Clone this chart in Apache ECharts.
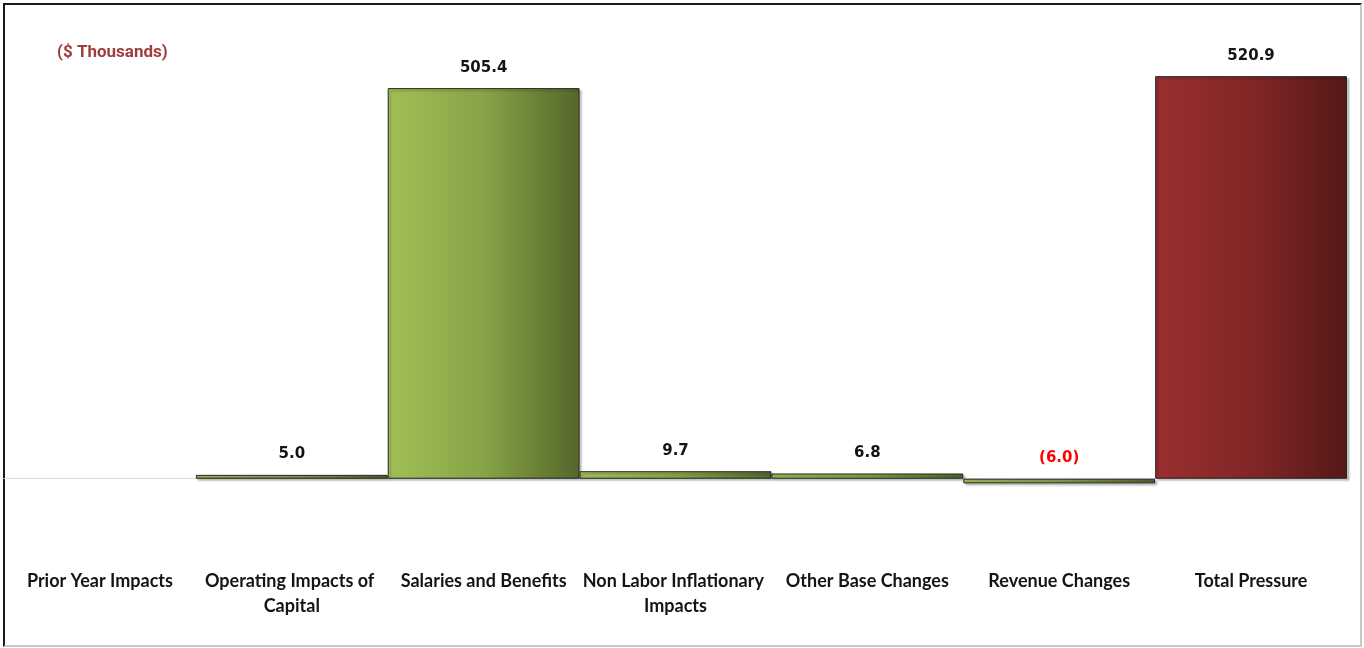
<!DOCTYPE html>
<html>
<head>
<meta charset="utf-8">
<script src="https://cdn.jsdelivr.net/npm/echarts@6/dist/echarts.min.js"></script>
<style>
  html, body { margin: 0; padding: 0; background: #ffffff; }
  .frame {
    position: absolute;
    left: 3px;
    top: 3px;
    width: 1355px;
    height: 640px;
    border-left: 2px solid #1a1a1a;
    border-top: 2px solid #1a1a1a;
    border-right: 2px solid #c8c8c8;
    border-bottom: 2px solid #c8c8c8;
    background: #ffffff;
  }
  #chart {
    position: absolute;
    left: 0;
    top: 0;
    width: 1364px;
    height: 648px;
  }
</style>
</head>
<body>
<div class="frame"></div>
<div id="chart"></div>
<script>
const categories = [
  'Prior Year Impacts',
  'Operating Impacts of Capital',
  'Salaries and Benefits',
  'Non Labor Inflationary Impacts',
  'Other Base Changes',
  'Revenue Changes',
  'Total Pressure'
]
const values = [0, 5.0, 505.4, 9.7, 6.8, -6.0, 520.9]
const unitLabel = '($ Thousands)'

const greenFill = new echarts.graphic.LinearGradient(0, 0, 1, 0, [
  { offset: 0, color: '#a0bf55' },
  { offset: 0.5, color: '#87a447' },
  { offset: 1, color: '#53672b' }
])
const redFill = new echarts.graphic.LinearGradient(0, 0, 1, 0, [
  { offset: 0, color: '#9a2f2f' },
  { offset: 0.5, color: '#822626' },
  { offset: 1, color: '#561818' }
])

const fmt = v => {
  if (v === null || v === 0) return ''
  return v < 0 ? '{neg|(' + Math.abs(v).toFixed(1) + ')}' : v.toFixed(1)
}

const myChart = echarts.init(document.getElementById('chart'), null, { renderer: 'canvas' })
const options = {
  backgroundColor: 'transparent',
  animation: false,
  title: {
    text: unitLabel,
    left: 52,
    top: 39,
    textStyle: {
      fontFamily: 'Roboto',
      fontSize: 17,
      fontWeight: 'bold',
      color: '#a03c3c'
    }
  },
  grid: {
    top: 15,
    left: 4,
    right: 17,
    bottom: 92,
    outerBoundsMode: 'none',
    containLabel: false
  },
  xAxis: {
    type: 'category',
    data: categories,
    axisLine: {
      onZero: true,
      lineStyle: { color: '#d9d9d9', width: 1 }
    },
    axisTick: { show: false },
    axisLabel: {
      interval: 0,
      margin: 13,
      width: 192,
      overflow: 'break',
      lineHeight: 25,
      verticalAlign: 'top',
      fontFamily: 'Lato',
      fontSize: 18,
      fontWeight: 'bold',
      color: '#141414'
    }
  },
  yAxis: {
    type: 'value',
    min: -100,
    max: 600,
    interval: 100,
    show: false,
    splitLine: { show: false }
  },
  series: [
    {
      type: 'bar',
      data: values.map(v => (v === 0 ? null : v)),
      barCategoryGap: 0,
      itemStyle: {
        color: p => (p.dataIndex === values.length - 1 ? redFill : greenFill),
        borderColor: '#262626',
        borderWidth: 1,
        shadowColor: 'rgba(0,0,0,0.25)',
        shadowBlur: 2,
        shadowOffsetX: 2,
        shadowOffsetY: 2
      },
      label: {
        show: true,
        position: 'top',
        distance: 13,
        fontFamily: 'DejaVu Sans',
        fontSize: 15,
        fontWeight: 'bold',
        color: '#141414',
        formatter: p => fmt(p.value),
        rich: {
          neg: {
            fontFamily: 'DejaVu Sans',
            fontSize: 15,
            fontWeight: 'bold',
            color: '#ff0000'
          }
        }
      }
    }
  ]
}
myChart.setOption(options)
</script>
</body>
</html>
